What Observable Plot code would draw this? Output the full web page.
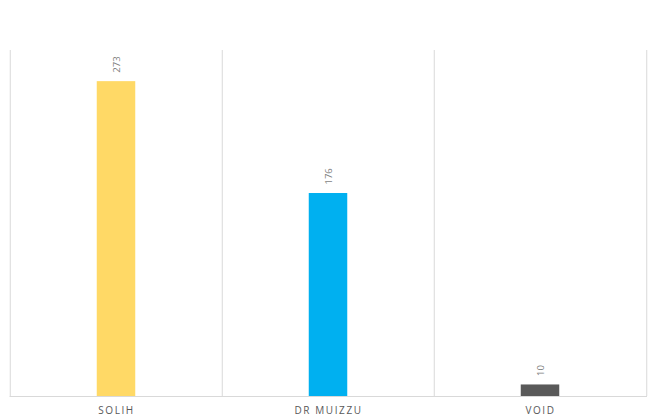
<!DOCTYPE html>
<html>
<head>
<meta charset="utf-8">
<script src="https://cdn.jsdelivr.net/npm/d3@7"></script>
<script src="https://cdn.jsdelivr.net/npm/@observablehq/plot@0.6"></script>
<style>
  body { margin: 0; background: white; }
  #chart { width: 658px; height: 420px; }
</style>
</head>
<body>
<div id="chart"></div>
<script>
// candidatos y votos
const candidates = ["SOLIH", "DR MUIZZU", "VOID"];
const votes = [273, 176, 10];
const colors = ["#FFD966", "#00B0F0", "#595959"];

const data = candidates.map((c, i) => ({ candidate: c, votes: votes[i], color: colors[i] }));

const W = 658, H = 420;
const mL = 9.5, mR = 11, mT = 50, mB = 24;
const bw = (W - mL - mR) / candidates.length;
const grid = "#d9d9d9";

let chart = Plot.plot({
  width: W,
  height: H,
  marginLeft: mL,
  marginRight: mR,
  marginTop: mT,
  marginBottom: mB,
  x: { domain: candidates, padding: 0, label: null, tickSize: 0, tickPadding: 10 },
  y: { domain: [0, 300], axis: null },
  style: {
    fontFamily: "'Open Sans', 'DejaVu Sans', sans-serif",
    fontSize: "10px",
    color: "#595959",
    background: "white"
  },
  marks: [
    // lineas verticales entre categorias
    Plot.ruleX(candidates, { x: (d) => d, y1: 0, y2: 300, stroke: grid, dx: -bw / 2 }),
    Plot.ruleX(candidates.slice(-1), { x: (d) => d, y1: 0, y2: 300, stroke: grid, dx: bw / 2 }),
    Plot.barY(data, {
      x: "candidate",
      y: "votes",
      fill: "color",
      insetLeft: (bw - 39) / 2,
      insetRight: (bw - 39) / 2
    }),
    Plot.ruleY([0], { stroke: grid }),
    Plot.text(data, {
      x: "candidate",
      y: "votes",
      text: (d) => String(d.votes),
      rotate: -90,
      textAnchor: "start",
      dy: -9,
      fill: "#7f7f7f",
      fontSize: 9.5
    })
  ]
});

d3.select(chart).selectAll("[aria-label='x-axis tick label'] text")
  .style("letter-spacing", "1.6px");

d3.select("#chart").append(() => chart);
</script>
</body>
</html>
